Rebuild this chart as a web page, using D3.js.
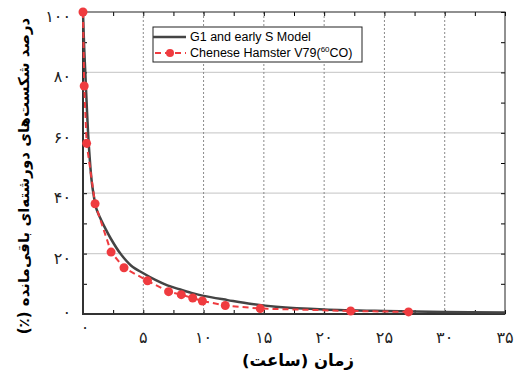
<!DOCTYPE html>
<html>
<head>
<meta charset="utf-8">
<script src="https://cdn.jsdelivr.net/npm/d3@7"></script>
<style>
  body { margin: 0; background: #fff; }
  svg { display: block; }
</style>
</head>
<body>
<svg id="chart" width="514" height="376"></svg>
<script>
// model curve
const modelTime = [0, 0.1, 0.19, 0.3, 0.42, 0.55, 0.72, 0.9, 1.1, 1.4, 1.7, 2.3, 3.1, 4, 5, 6, 7, 8, 9, 10, 12, 14, 16, 20, 25, 30, 35];
const modelVal  = [100, 88, 80, 70, 60, 52, 44, 39, 35, 32, 29.5, 25, 20, 16, 13.5, 11.3, 9.5, 8.2, 7, 6, 4.6, 3.3, 2.4, 1.5, 1.0, 0.7, 0.5];

// measured points
const expTime = [0, 0.1, 0.3, 1.0, 2.33, 3.4, 5.35, 7.1, 8.15, 9.1, 9.9, 11.8, 14.7, 22.2, 27.0];
const expVal  = [100, 75.5, 56.5, 36.5, 20.5, 15.3, 11.0, 7.4, 6.4, 5.3, 4.3, 2.8, 1.8, 1.0, 0.7];

const xTicks = [0, 5, 10, 15, 20, 25, 30, 35];
const yTicks = [0, 20, 40, 60, 80, 100];
const legendLabels = ["G1 and early S Model", "Chenese Hamster V79("];

const fa = n => String(n).replace(/\d/g, d => "۰۱۲۳۴۵۶۷۸۹"[d]);

const m = { left: 83, right: 505, top: 12, bottom: 314 };
const svg = d3.select("#chart");
const x = d3.scaleLinear().domain([0, 35]).range([m.left, m.right]);
const y = d3.scaleLinear().domain([0, 100]).range([m.bottom, m.top]);
const red = "#ef3b3f";

// grid
svg.append("g").selectAll("line")
    .data([20, 40, 60, 80]).enter()
    .append("line")
    .attr("x1", m.left).attr("x2", m.right)
    .attr("y1", d => y(d)).attr("y2", d => y(d))
    .attr("stroke", "#cfcfcf").attr("stroke-width", 1.2);
svg.append("g").selectAll("line")
    .data([5, 10, 15, 20, 25, 30]).enter()
    .append("line")
    .attr("x1", d => x(d)).attr("x2", d => x(d))
    .attr("y1", m.top).attr("y2", m.bottom)
    .attr("stroke", "#8a8a8a").attr("stroke-width", 1)
    .attr("stroke-dasharray", "2,2");

// ticks inside on all four sides
const xMinor = d3.range(0, 35.01, 2.5);
const yMinor = d3.range(0, 100.01, 10);
svg.append("g").attr("transform", `translate(0,${m.bottom})`)
    .call(d3.axisBottom(x).tickValues(xMinor).tickSize(-4).tickFormat(""))
    .call(g => g.select(".domain").remove());
svg.append("g").attr("transform", `translate(0,${m.top})`)
    .call(d3.axisTop(x).tickValues(xMinor).tickSize(-4).tickFormat(""))
    .call(g => g.select(".domain").remove());
svg.append("g").attr("transform", `translate(${m.left},0)`)
    .call(d3.axisLeft(y).tickValues(yMinor).tickSize(-4).tickFormat(""))
    .call(g => g.select(".domain").remove());
svg.append("g").attr("transform", `translate(${m.right},0)`)
    .call(d3.axisRight(y).tickValues(yMinor).tickSize(-4).tickFormat(""))
    .call(g => g.select(".domain").remove());

// frame
svg.append("rect")
    .attr("x", m.left).attr("y", m.top)
    .attr("width", m.right - m.left).attr("height", m.bottom - m.top)
    .attr("fill", "none").attr("stroke", "#222").attr("stroke-width", 1);
svg.append("path")
    .attr("d", `M${m.left},${m.top}V${m.bottom}H${m.right}`)
    .attr("fill", "none").attr("stroke", "#333").attr("stroke-width", 2);

// tick labels
svg.append("g").selectAll("text")
    .data(xTicks).enter()
    .append("text")
    .attr("x", d => x(d) + (d === 0 ? 2 : 0))
    .attr("y", d => d === 0 ? 333 : 343)
    .attr("text-anchor", "middle")
    .attr("font-family", "DejaVu Sans")
    .attr("font-size", 16)
    .attr("fill", "#222")
    .text(d => fa(d));
svg.append("g").selectAll("text")
    .data(yTicks).enter()
    .append("text")
    .attr("x", 71)
    .attr("y", d => y(d) + (d === 0 ? 4 : 10))
    .attr("text-anchor", "end")
    .attr("font-family", "DejaVu Sans")
    .attr("font-size", 16)
    .attr("fill", "#222")
    .text(d => fa(d));

// axis titles
svg.append("text")
    .attr("x", 298).attr("y", 366)
    .attr("text-anchor", "middle")
    .attr("font-family", "DejaVu Sans")
    .attr("font-weight", "bold")
    .attr("font-size", 16.5)
    .attr("direction", "rtl")
    .text("زمان (ساعت)");
svg.append("text")
    .attr("transform", "translate(29,176) rotate(-90)")
    .attr("text-anchor", "middle")
    .attr("font-family", "DejaVu Sans")
    .attr("font-weight", "bold")
    .attr("font-size", 15)
    .attr("direction", "rtl")
    .text("درصد شکست‌های دورشته‌ای باقی‌مانده (٪)");

// series
svg.append("path")
    .datum(d3.zip(modelTime, modelVal))
    .attr("d", d3.line().x(d => x(d[0])).y(d => y(d[1])).curve(d3.curveCatmullRom.alpha(0.5)))
    .attr("fill", "none").attr("stroke", "#444").attr("stroke-width", 2.5);
svg.append("path")
    .datum(d3.zip(expTime, expVal))
    .attr("d", d3.line().x(d => x(d[0])).y(d => y(d[1])))
    .attr("fill", "none").attr("stroke", red).attr("stroke-width", 2)
    .attr("stroke-dasharray", "6,4");
svg.append("g").selectAll("circle")
    .data(d3.zip(expTime, expVal)).enter()
    .append("circle")
    .attr("cx", d => x(d[0])).attr("cy", d => y(d[1]))
    .attr("r", 4.5).attr("fill", red);

// legend
const lg = svg.append("g").attr("transform", "translate(153,27)");
lg.append("rect").attr("width", 209).attr("height", 35)
    .attr("fill", "#fff").attr("stroke", "#222").attr("stroke-width", 1);
lg.append("line").attr("x1", 0).attr("x2", 33).attr("y1", 10).attr("y2", 10)
    .attr("stroke", "#444").attr("stroke-width", 2.5);
lg.append("line").attr("x1", 2).attr("x2", 33).attr("y1", 26).attr("y2", 26)
    .attr("stroke", red).attr("stroke-width", 2).attr("stroke-dasharray", "6,4");
lg.append("circle").attr("cx", 17).attr("cy", 26).attr("r", 4).attr("fill", red);
lg.append("text").attr("x", 37).attr("y", 14)
    .attr("font-family", "Liberation Sans, Arial").attr("font-size", 12.5)
    .text(legendLabels[0]);
const t2 = lg.append("text").attr("x", 37).attr("y", 30)
    .attr("font-family", "Liberation Sans, Arial").attr("font-size", 12.5);
t2.append("tspan").text(legendLabels[1]);
t2.append("tspan").attr("font-size", 8).attr("dy", -5).text("60");
t2.append("tspan").attr("dy", 5).text("CO)");
</script>
</body>
</html>
